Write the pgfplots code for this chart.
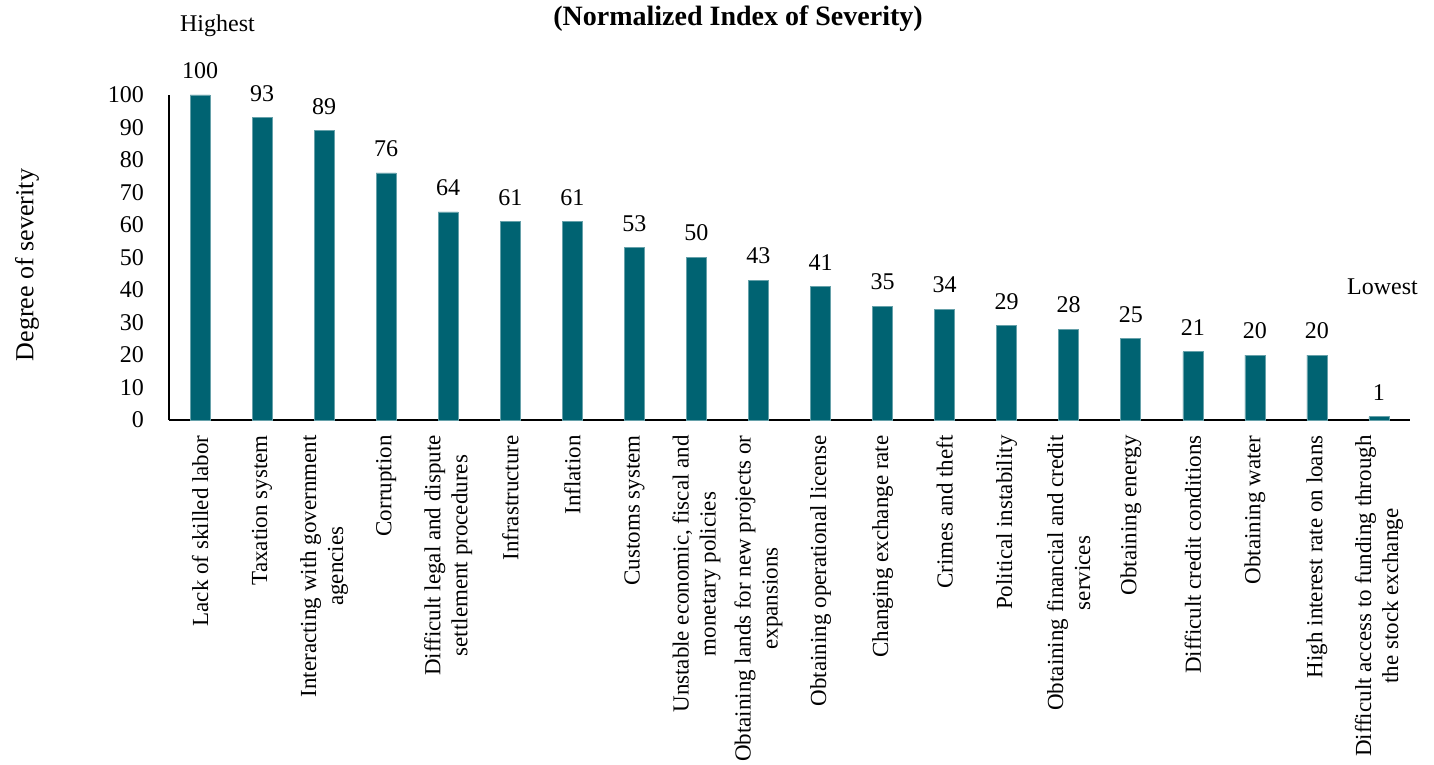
\documentclass[border=0pt]{standalone}
\usepackage{fontspec}
\setmainfont{Liberation Serif}
\usepackage{pgfplots}
\pgfplotsset{compat=1.18}
\definecolor{barteal}{RGB}{0,99,114}

\begin{document}
\begin{tikzpicture}
\begin{axis}[
  at={(0,0)}, anchor=south west,
  scale only axis,
  width=620.5pt, height=162.5pt,
  ybar, bar width=10pt,
  xmin=-0.5, xmax=19.5,
  ymin=0, ymax=100,
  axis x line*=bottom, axis y line*=left,
  axis line style={-, line width=0.8pt, black},
  major tick length=0pt,
  ytick={0,10,...,100},
  xtick={0,...,19},
  /pgf/number format/assume math mode=true,
  yticklabel style={font=\fontsize{12}{14}\selectfont, xshift=-9pt},
  xticklabel style={font=\fontsize{11.5}{13.5}\selectfont, yshift=-7.5pt,
    rotate=90, anchor=east, align=center, inner sep=0pt},
  xticklabels={
    Lack of skilled labor,
    Taxation system,
    Interacting with government\\agencies,
    Corruption,
    Difficult legal and dispute\\settlement procedures,
    Infrastructure,
    Inflation,
    Customs system,
    {Unstable economic, fiscal and\\monetary policies},
    Obtaining lands for new projects or\\expansions,
    Obtaining operational license,
    Changing exchange rate,
    Crimes and theft,
    Political instability,
    Obtaining financial and credit\\services,
    Obtaining energy,
    Difficult credit conditions,
    Obtaining water,
    High interest rate on loans,
    Difficult access to funding through\\the stock exchange
  },
  nodes near coords,
  every node near coord/.append style={font=\fontsize{12}{14}\selectfont,
    inner sep=0pt, yshift=8pt, /pgf/number format/assume math mode=true},
  clip=false,
]
\addplot[fill=barteal, draw=barteal!60!white, line width=0.3pt] coordinates {
  (0,100) (1,93) (2,89) (3,76) (4,64) (5,61) (6,61) (7,53) (8,50) (9,43)
  (10,41) (11,35) (12,34) (13,29) (14,28) (15,25) (16,21) (17,20) (18,20) (19,1)
};
\end{axis}
% annotations around the plot area
\node[font=\bfseries\fontsize{14}{16}\selectfont, anchor=base] at (284.5pt,197pt) {(Normalized Index of Severity)};
\node[font=\fontsize{12}{14}\selectfont, anchor=base] at (24.25pt,194.2pt) {Highest};
\node[font=\fontsize{12}{14}\selectfont, anchor=base] at (606.75pt,62.5pt) {Lowest};
\node[font=\fontsize{13}{15}\selectfont, rotate=90] at (-71pt,77.5pt) {Degree of severity};
\pgfresetboundingbox
\path[use as bounding box] (-84.5pt,-172.5pt) rectangle (632.5pt,210pt);
\end{tikzpicture}
\end{document}
